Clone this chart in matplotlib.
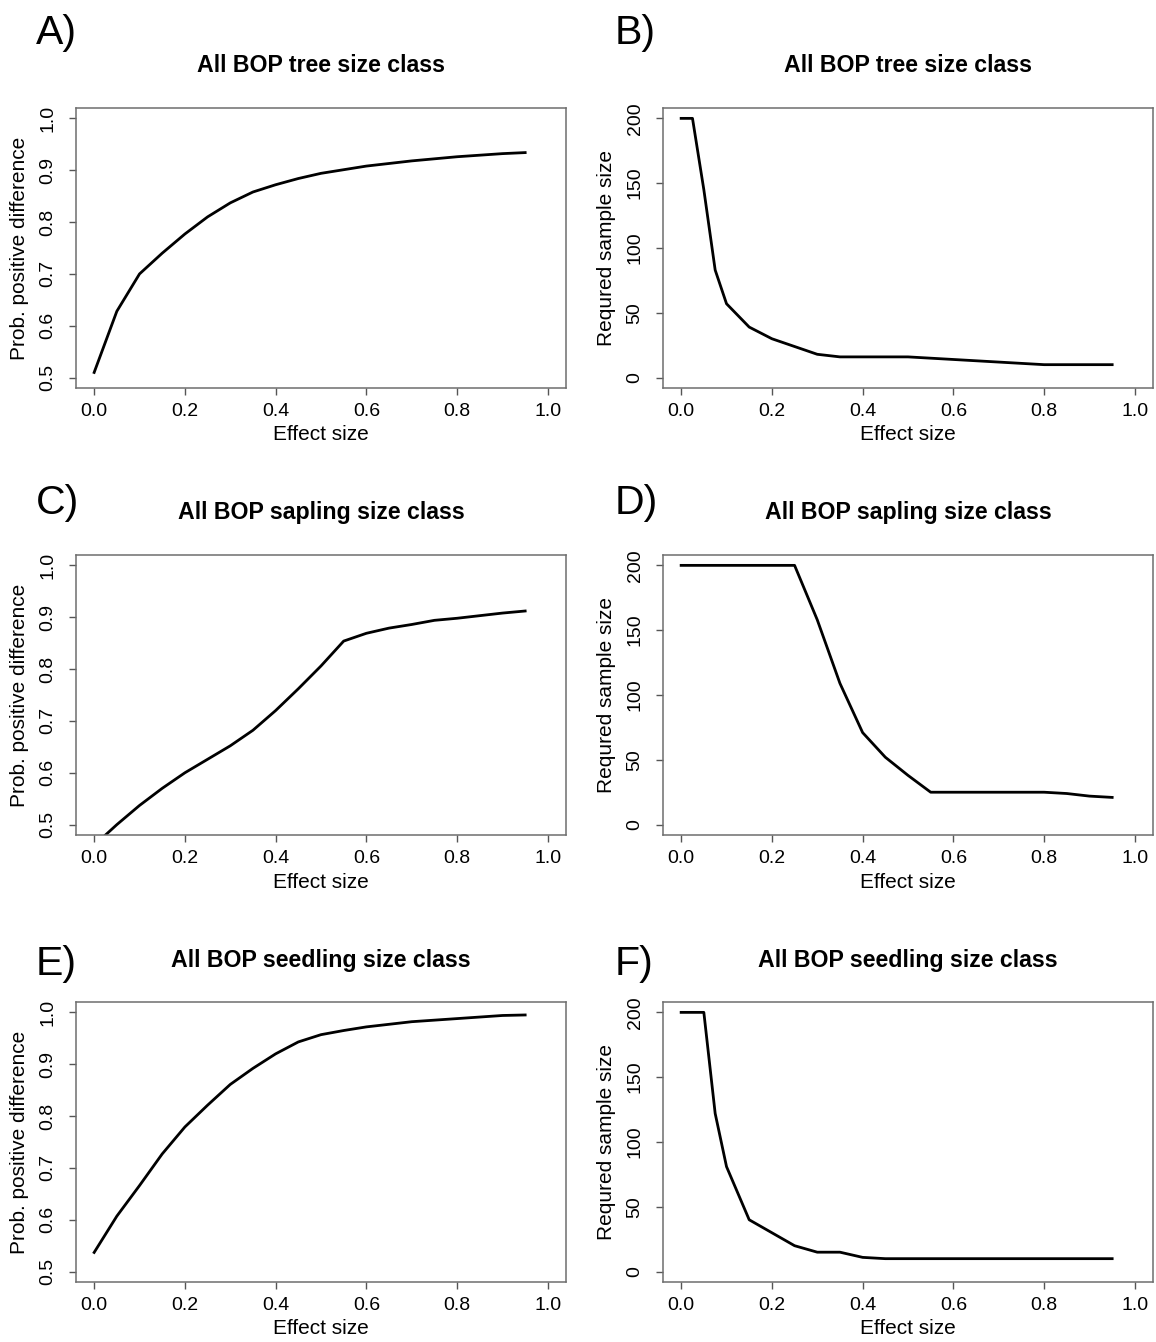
import matplotlib
matplotlib.use("Agg")
import matplotlib.pyplot as plt

plt.rcParams['font.family'] = ['Liberation Sans', 'DejaVu Sans']

# ---------------- data ----------------
x_prob = [0.0, 0.05, 0.1, 0.15, 0.2, 0.25, 0.3, 0.35, 0.4, 0.45,
          0.5, 0.55, 0.6, 0.65, 0.7, 0.75, 0.8, 0.85, 0.9, 0.95]
x_n = [0.0, 0.025, 0.05, 0.075, 0.1, 0.15, 0.2, 0.25, 0.3, 0.35, 0.4,
       0.45, 0.5, 0.55, 0.6, 0.65, 0.7, 0.75, 0.8, 0.85, 0.9, 0.95]

prob_tree = [0.51, 0.628, 0.70, 0.74, 0.777, 0.81, 0.837, 0.858, 0.872, 0.884,
             0.894, 0.901, 0.908, 0.913, 0.918, 0.922, 0.926, 0.929, 0.932, 0.934]
prob_sapling = [0.46, 0.50, 0.537, 0.57, 0.60, 0.626, 0.652, 0.682, 0.72, 0.762,
                0.806, 0.854, 0.869, 0.879, 0.886, 0.894, 0.898, 0.903, 0.908, 0.912]
prob_seedling = [0.537, 0.607, 0.666, 0.727, 0.779, 0.821, 0.861, 0.892, 0.92, 0.943,
                 0.957, 0.965, 0.972, 0.977, 0.982, 0.985, 0.988, 0.991, 0.994, 0.995]

n_tree = [200, 200, 145, 83, 57, 39, 30, 24, 18, 16, 16,
          16, 16, 15, 14, 13, 12, 11, 10, 10, 10, 10]
n_sapling = [200, 200, 200, 200, 200, 200, 200, 200, 158, 109, 71,
             52, 38, 25, 25, 25, 25, 25, 25, 24, 22, 21]
n_seedling = [200, 200, 200, 122, 81, 40, 30, 20, 15, 15, 11,
              10, 10, 10, 10, 10, 10, 10, 10, 10, 10, 10]

titles = ["All BOP tree size class", "All BOP sapling size class",
          "All BOP seedling size class"]
letters_left = ["A)", "C)", "E)"]
letters_right = ["B)", "D)", "F)"]
x_ticks = [0.0, 0.2, 0.4, 0.6, 0.8, 1.0]
x_ticklabels = ["0.0", "0.2", "0.4", "0.6", "0.8", "1.0"]
prob_ticks = [0.5, 0.6, 0.7, 0.8, 0.9, 1.0]
prob_ticklabels = ["0.5", "0.6", "0.7", "0.8", "0.9", "1.0"]
n_ticks = [0, 50, 100, 150, 200]
n_ticklabels = ["0", "50", "100", "150", "200"]
xlabel = "Effect size"
ylabel_prob = "Prob. positive difference"
ylabel_n = "Requred sample size"

# ---------------- layout ----------------
W, H = 1156, 1342
fig = plt.figure(figsize=(W / 100, H / 100), dpi=100)
fig.patch.set_facecolor("white")

BOX_W, BOX_H = 490, 280
lefts = [76, 663]
tops = [108, 555, 1002]
letter_base = [44, 514, 975]

BOX_COLOR = "#6e6e6e"


def make_ax(left, top):
    ax = fig.add_axes([left / W, 1 - (top + BOX_H) / H, BOX_W / W, BOX_H / H])
    for sp in ax.spines.values():
        sp.set_color(BOX_COLOR)
        sp.set_linewidth(1.1)
    ax.tick_params(axis='both', direction='out', length=5, width=1.0,
                   color="#555555", labelsize=14, labelcolor="black")
    ax.tick_params(axis='x', pad=6)
    ax.tick_params(axis='y', pad=9, labelrotation=90)
    ax.set_xlim(-0.04, 1.04)
    ax.set_xticks(x_ticks)
    ax.set_xticklabels(x_ticklabels)
    return ax


def finish(ax, ylab, left, top, title):
    ax.set_xlabel(xlabel, fontsize=15)
    ax.xaxis.set_label_coords(0.5, -47 / BOX_H)
    ax.xaxis.label.set_va('center')
    ax.set_ylabel(ylab, fontsize=15)
    ax.yaxis.set_label_coords(-56 / BOX_W, 0.5)
    ax.yaxis.label.set_va('center')
    for lab in ax.get_yticklabels():
        lab.set_va('center')
        lab.set_rotation(90)
    fig.text((left + BOX_W / 2) / W, 1 - (top - 42) / H, title,
             fontsize=16.7, fontweight='bold', ha='center', va='center')


prob_series = [prob_tree, prob_sapling, prob_seedling]
n_series = [n_tree, n_sapling, n_seedling]

for i in range(3):
    # left: probability
    ax = make_ax(lefts[0], tops[i])
    ax.plot(x_prob, prob_series[i], color='black', linewidth=2.0,
            solid_joinstyle='round')
    ax.set_ylim(0.48, 1.02)
    ax.set_yticks(prob_ticks)
    ax.set_yticklabels(prob_ticklabels)
    finish(ax, ylabel_prob, lefts[0], tops[i], titles[i])

    # right: sample size
    ax2 = make_ax(lefts[1], tops[i])
    ax2.plot(x_n, n_series[i], color='black', linewidth=2.0,
             solid_joinstyle='round')
    ax2.set_ylim(-8, 208)
    ax2.set_yticks(n_ticks)
    ax2.set_yticklabels(n_ticklabels)
    finish(ax2, ylabel_n, lefts[1], tops[i], titles[i])

    fig.text(36 / W, 1 - letter_base[i] / H, letters_left[i], fontsize=29.5,
             ha='left', va='baseline')
    fig.text(615 / W, 1 - letter_base[i] / H, letters_right[i], fontsize=29.5,
             ha='left', va='baseline')

fig.savefig("out.png", dpi=100, facecolor="white")
